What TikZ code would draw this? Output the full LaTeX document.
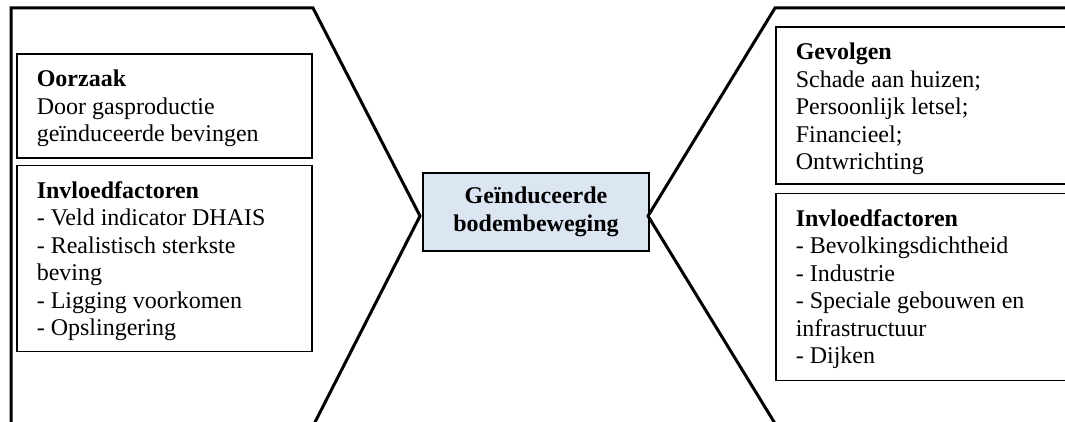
\documentclass[tikz,border=0pt]{standalone}
\usepackage{fontspec}
\setmainfont{Liberation Serif}
\usepackage{tikz}
\usepackage{xcolor}
\usetikzlibrary{positioning}

\definecolor{paleblue}{HTML}{DCE6F2}
\newcommand{\infotxt}[3]{\parbox[t][#1][t]{#2}{\strut #3}}

\tikzset{
  chevron/.style={line width=1.5pt,line join=miter},
  infobox/.style={draw,line width=0.8pt,anchor=north west,inner xsep=10pt,inner ysep=7pt,
    font=\fontsize{12}{13.7}\selectfont},
  centerbox/.style={draw,line width=1pt,fill=paleblue,align=center,minimum width=113pt,
    minimum height=39pt,inner sep=0pt,font=\fontsize{12}{13.7}\selectfont\bfseries}
}

\begin{document}
\begin{tikzpicture}[x=0.5pt,y=-0.5pt]
\useasboundingbox (0,0) rectangle (1065,422);
\clip (0,0) rectangle (1065,422);
\node[centerbox] (mid) at (536,212) {Geïnduceerde\\bodembeweging};
\coordinate (ltip) at (420,216);
\coordinate (rtip) at (648,216);
\draw[chevron] (11,430) -- (11,8) -- (313,8) -- (ltip) -- (311,430);
\draw[chevron] (1090,8) -- (775,8) -- (rtip) -- (779,430);
\node[infobox] (oorzaak) at (16,53) {\infotxt{38pt}{127.5pt}{\textbf{Oorzaak}\\Door gasproductie\\geïnduceerde bevingen}};
\node[infobox,below=3pt of oorzaak.south west,anchor=north west] (linvloed) {\infotxt{79pt}{127.5pt}{\textbf{Invloedfactoren}\\- Veld indicator DHAIS\\- Realistisch sterkste\\beving\\- Ligging voorkomen\\- Opslingering}};
\node[infobox] (gevolgen) at (775,26) {\infotxt{64.5pt}{130pt}{\textbf{Gevolgen}\\Schade aan huizen;\\Persoonlijk letsel;\\Financieel;\\Ontwrichting}};
\node[infobox,below=4pt of gevolgen.south west,anchor=north west] (rinvloed) {\infotxt{79.5pt}{130pt}{\textbf{Invloedfactoren}\\- Bevolkingsdichtheid\\- Industrie\\- Speciale gebouwen en\\infrastructuur\\- Dijken}}; % right side runs off the page
\end{tikzpicture}
\end{document}
